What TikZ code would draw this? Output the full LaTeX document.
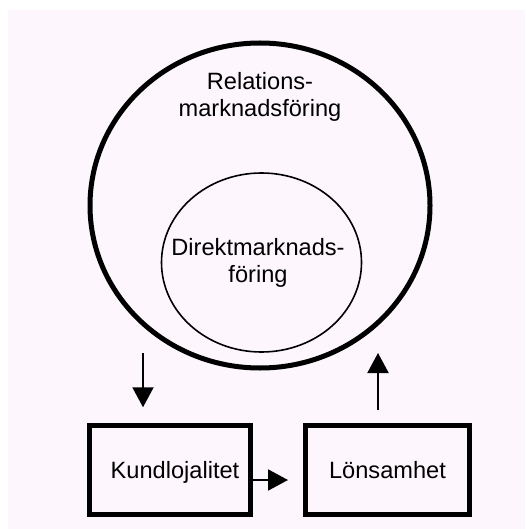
\documentclass[tikz,border=0pt]{standalone}
\usepackage{fontspec}
\setmainfont{Liberation Sans}
\usetikzlibrary{arrows.meta,shapes.geometric}
\definecolor{paper}{HTML}{FDF7FD}
\begin{document}
\begin{tikzpicture}[x=1pt,y=-1pt,
  lbl/.style={font=\fontsize{23.6}{27}\selectfont, align=center, inner sep=0pt, anchor=base},
  stepbox/.style={draw, line width=4.5pt, rectangle, minimum width=161pt, minimum height=89pt, inner sep=0pt},
  arr/.style={line width=2pt, -{Triangle[width=21pt,length=20pt]}}]
\useasboundingbox (0,0) rectangle (525,529);
% paper sheet
\fill[paper] (8,10) rectangle (525,529);
% nested circles
\node[draw, ellipse, line width=5pt, minimum width=340pt, minimum height=325pt, inner sep=0pt] (rm) at (260,205.5) {};
\node[draw, ellipse, line width=1.6pt, minimum width=200pt, minimum height=179pt, inner sep=0pt] (dm) at (261.5,262.5) {};
\node[lbl] (rmtext) at (260,117) {Relations-\\marknadsföring};
\node[lbl] (dmtext) at (258,282) {Direktmarknads-\\föring};
% outcome boxes
\node[stepbox] (kbox) at (170,470) {};
\node[lbl] (ktext) at (175,478) {Kundlojalitet};
\node[stepbox, minimum width=164pt] (lbox) at (387.5,470) {};
\node[lbl] (ltext) at (387.5,478) {Lönsamhet};
% arrows
\coordinate (dstart) at (143,353);
\coordinate (utip) at (378,353);
\draw[arr, shorten >=16pt] (dstart) -- (dstart |- kbox.north);
\draw[arr, shorten <=13pt] (utip |- lbox.north) -- (utip);
\draw[arr, shorten >=15.25pt] ([yshift=-10pt]kbox.east) -- ([yshift=-10pt]lbox.west);
\end{tikzpicture}
\end{document}
